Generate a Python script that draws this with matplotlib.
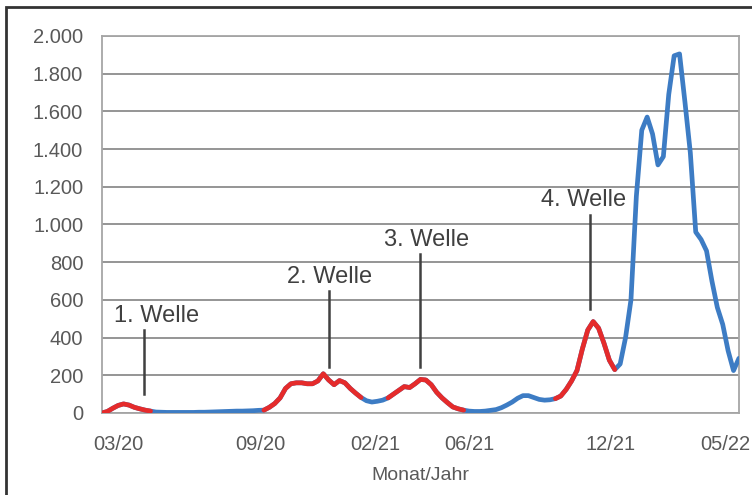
import numpy as np
import pandas as pd
import matplotlib.pyplot as plt
from matplotlib.patches import Rectangle
from matplotlib.ticker import FuncFormatter

plt.rcParams['font.family'] = ['Liberation Sans', 'DejaVu Sans']

# weekly values, one per calendar week from late Feb 2020 to late May 2022
values = [0, 8, 25, 40, 48, 42, 30, 22, 15, 10,
          5, 4, 3, 3, 3, 3, 3, 3, 4, 4,
          5, 6, 7, 8, 9, 10, 10, 11, 12, 14,
          15, 30, 50, 80, 130, 155, 160, 160, 155, 155,
          170, 208, 175, 150, 172, 160, 130, 105, 82, 65,
          58, 62, 68, 80, 100, 120, 140, 135, 155, 178,
          175, 150, 110, 80, 55, 32, 22, 15, 10, 8,
          8, 10, 14, 18, 28, 42, 58, 78, 92, 92,
          82, 72, 68, 70, 76, 90, 125, 170, 225, 340,
          440, 485, 450, 370, 280, 230, 260, 400, 600, 1150,
          1500, 1570, 1480, 1316, 1360, 1690, 1895, 1905, 1650, 1380,
          960, 920, 860, 700, 560, 470, 330, 225, 290]
weeks = pd.date_range('2020-02-23', periods=len(values), freq='W')

# start/end week index of each wave (drawn in red)
wave_ranges = [(0, 9), (30, 48), (53, 67), (84, 95)]
wave_names = ['1. Welle', '2. Welle', '3. Welle', '4. Welle']
wave_marks = ['2020-04-18', '2020-12-13', '2021-04-11', '2021-11-17']
label_dates = ['2020-05-04', '2020-12-14', '2021-04-19', '2021-11-09']
label_heights = [515, 721, 918, 1130]
line_tops = [440, 647, 843, 1050]
line_bottoms = [100, 244, 244, 552]

tick_dates = ['2020-03-15', '2020-09-15', '2021-02-12', '2021-06-13',
              '2021-12-13', '2022-05-11']
tick_labels = ['03/20', '09/20', '02/21', '06/21', '12/21', '05/22']

red = '#e52b2b'
blue = '#3d7cc4'
grey = '#595959'

fig = plt.figure(figsize=(7.52, 4.95), dpi=100)
ax = fig.add_axes([0.1356, 0.1657, 0.847, 0.7616])

vals = np.array(values, dtype=float)
# blue baseline first, red waves on top
ax.plot(weeks, vals, color=blue, lw=3.4, solid_joinstyle='round',
        solid_capstyle='round', zorder=3)
for a, b in wave_ranges:
    ax.plot(weeks[a:b + 1], vals[a:b + 1], color=red, lw=3.4,
            solid_joinstyle='round', solid_capstyle='round', zorder=4)

for name, d, ld, ht, top, bot in zip(wave_names, wave_marks, label_dates,
                                     label_heights, line_tops, line_bottoms):
    x = pd.Timestamp(d)
    ax.plot([x, x], [bot, top], color='#404040', lw=1.8, zorder=5)
    ax.text(pd.Timestamp(ld), ht, name, ha='center', va='center',
            fontsize=17, color='#404040', zorder=5)

ax.set_xlim(weeks[0], weeks[-1])
ax.set_ylim(0, 2000)
ax.set_yticks(np.arange(0, 2001, 200))
ax.yaxis.set_major_formatter(
    FuncFormatter(lambda v, p: f'{int(v):,}'.replace(',', '.')))
ax.set_xticks(pd.to_datetime(tick_dates))
ax.set_xticklabels(tick_labels)
ax.tick_params(length=0, labelsize=14.5, labelcolor=grey)
ax.tick_params(axis='y', pad=13.5)
ax.tick_params(axis='x', pad=16)
ax.set_xlabel('Monat/Jahr', fontsize=14, color=grey, labelpad=9)

ax.grid(axis='y', color='#8c8c8c', lw=1.3)
ax.set_axisbelow(True)
for s in ax.spines.values():
    s.set_color('#a6a6a6')
    s.set_linewidth(1.3)

# outer frame around the whole chart
fig.patches.append(Rectangle((0.008, -0.1), 1.1, 1.085,
                             transform=fig.transFigure, fill=False,
                             edgecolor='#333333', lw=2))

fig.savefig('out.png', dpi=100)
